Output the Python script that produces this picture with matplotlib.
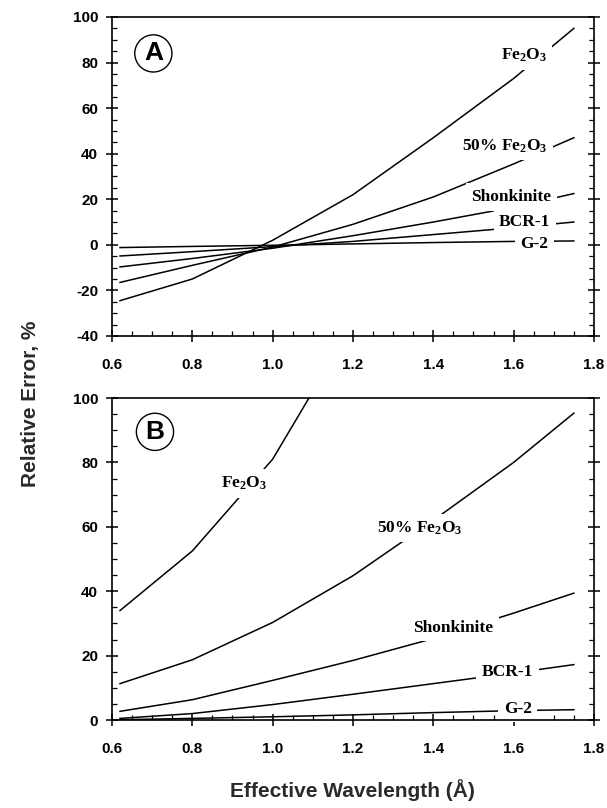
import matplotlib
matplotlib.use("Agg")
import matplotlib.pyplot as plt
from matplotlib.ticker import MultipleLocator

plt.rcParams['axes.unicode_minus'] = False
plt.rcParams['mathtext.fontset'] = 'custom'
plt.rcParams['mathtext.rm'] = 'Liberation Serif:bold'
plt.rcParams['mathtext.it'] = 'Liberation Serif:bold'
plt.rcParams['mathtext.bf'] = 'Liberation Serif:bold'

# wavelength points (Angstrom)
wl = [0.62, 0.8, 1.0, 1.2, 1.4, 1.6, 1.75]

names = [r'Fe$_2$O$_3$', r'50% Fe$_2$O$_3$', 'Shonkinite', 'BCR-1', 'G-2']

# panel A: relative error, %
a_fe2o3 = [-24.5, -15, 2, 22, 47, 73, 95]
a_half = [-16.5, -9, -1, 9, 21, 35.5, 47]
a_shonk = [-9.7, -6, -1.5, 4, 10, 16.5, 22.5]
a_bcr = [-4.9, -3, -0.8, 1.5, 4.5, 7.5, 10]
a_g2 = [-1.2, -0.7, -0.2, 0.4, 1.0, 1.5, 1.7]

# panel B: relative error, %
b_fe2o3 = [34, 52.5, 81, 123, 170, 220, 260]
b_half = [11.3, 18.7, 30.3, 44.8, 62, 80, 95.3]
b_shonk = [2.7, 6.3, 12.3, 18.5, 25.3, 33.2, 39.4]
b_bcr = [0.5, 2, 4.8, 8, 11.3, 14.6, 17.2]
b_g2 = [0.1, 0.5, 1.0, 1.6, 2.3, 2.9, 3.2]

# label anchor points (x, y) for each curve
a_label_x = [1.625, 1.578, 1.594, 1.628, 1.652]
a_label_y = [83, 43.3, 21, 9.9, 0.3]
b_label_x = [0.93, 1.365, 1.45, 1.585, 1.61]
b_label_y = [73.5, 59.6, 28.6, 14.9, 3.5]

fig = plt.figure(figsize=(6.07, 8.08), dpi=100)
axA = fig.add_axes([0.1845, 0.5842, 0.794, 0.3948])
axB = fig.add_axes([0.1845, 0.1089, 0.794, 0.3985])

tick_font = dict(family='Liberation Sans', weight='bold', size=11)
label_font = dict(family='Liberation Serif', weight='bold', size=12.5)


def style_axis(ax, ylo, yhi):
    ax.set_xlim(0.6, 1.8)
    ax.set_ylim(ylo, yhi)
    ax.xaxis.set_major_locator(MultipleLocator(0.2))
    ax.xaxis.set_minor_locator(MultipleLocator(0.05))
    ax.yaxis.set_major_locator(MultipleLocator(20))
    ax.yaxis.set_minor_locator(MultipleLocator(5))
    ax.tick_params(axis='x', which='major', direction='inout', length=8, width=1.1, pad=12)
    ax.tick_params(axis='y', which='major', direction='inout', length=8, width=1.1,
                   right=True, pad=6)
    ax.tick_params(which='minor', direction='in', length=3.5, width=0.9, right=True)
    ax.set_xticklabels([f'{v:.1f}' for v in ax.get_xticks()], **tick_font)
    ax.set_yticklabels([f'{v:.0f}' for v in ax.get_yticks()], **tick_font)
    for s in ax.spines.values():
        s.set_linewidth(1.2)


def draw(ax, series, lx, ly):
    for vals, name, x, y in zip(series, names, lx, ly):
        ax.plot(wl, vals, color='black', lw=1.1)
        ax.text(x, y, name, ha='center', va='center', zorder=2.1,
                bbox=dict(facecolor='white', edgecolor='none', pad=4), **label_font)


draw(axA, [a_fe2o3, a_half, a_shonk, a_bcr, a_g2], a_label_x, a_label_y)
draw(axB, [b_fe2o3, b_half, b_shonk, b_bcr, b_g2], b_label_x, b_label_y)
style_axis(axA, -40, 100)
style_axis(axB, 0, 100)

circle = dict(boxstyle='circle,pad=0.25', facecolor='white', edgecolor='black', lw=1.0)
axA.text(0.703, 84, 'A', ha='center', va='center', fontsize=19, family='Liberation Sans',
         weight='bold', bbox=circle)
axB.text(0.707, 89.5, 'B', ha='center', va='center', fontsize=19, family='Liberation Sans',
         weight='bold', bbox=circle)

fig.text(0.05, 0.5, 'Relative Error, %', rotation=90, ha='center', va='center',
         family='Liberation Sans', weight='bold', fontsize=15, color='#2a2a2a')
fig.text(0.58, 0.022, 'Effective Wavelength (Å)', ha='center', va='center',
         family='Liberation Sans', weight='bold', fontsize=15, color='#2a2a2a')

fig.savefig('out.png', dpi=100)
